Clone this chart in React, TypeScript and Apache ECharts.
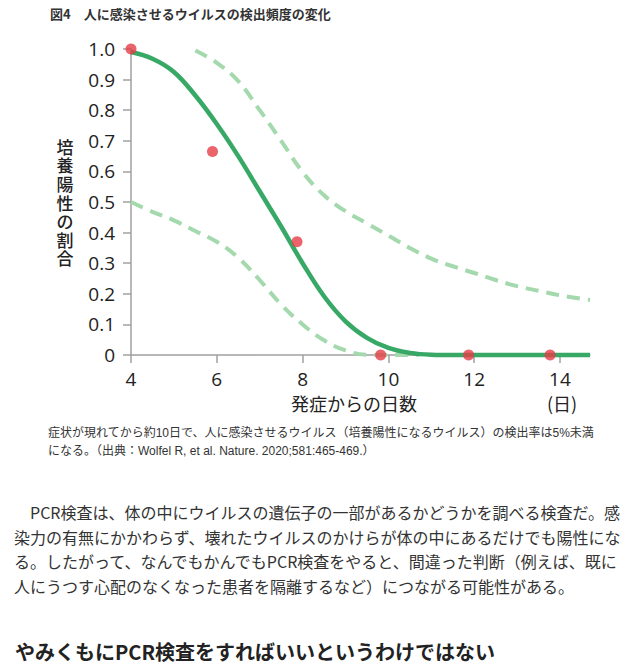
import React, { useEffect, useRef } from "react";
import * as echarts from "echarts";

// ---- data ----
const titleText = "図4　人に感染させるウイルスの検出頻度の変化";
const yAxisName = "培養陽性の割合";
const xAxisName = "発症からの日数";
const xUnit = "(日)";
const xTicks = [4, 6, 8, 10, 12, 14];

// observed proportions (red dots)
const obsDays = [4, 5.9, 7.87, 9.82, 11.87, 13.77];
const obsValues = [1.0, 0.665, 0.37, 0, 0, 0];

// fitted curve (solid)
const fitDays = [4, 4.5, 5, 5.5, 6, 6.5, 7, 7.5, 8, 8.5, 9, 9.5, 10, 10.5, 11, 11.5, 12, 13, 14, 14.7];
const fitValues = [0.99, 0.968, 0.925, 0.848, 0.755, 0.65, 0.535, 0.42, 0.3, 0.192, 0.11, 0.056, 0.023, 0.007, 0.001, 0, 0, 0, 0, 0];

// upper confidence bound (dashed)
const upperDays = [5.5, 6, 6.5, 7, 7.5, 8, 8.5, 9, 9.5, 10, 10.5, 11, 11.5, 12, 12.5, 13, 13.5, 14, 14.7];
const upperValues = [0.995, 0.955, 0.895, 0.8, 0.7, 0.598, 0.522, 0.47, 0.43, 0.39, 0.35, 0.315, 0.29, 0.268, 0.245, 0.225, 0.21, 0.195, 0.18];

// lower confidence bound (dashed)
const lowerDays = [4, 4.5, 5, 5.5, 6, 6.5, 7, 7.5, 8, 8.5, 9, 9.5, 10, 10.7];
const lowerValues = [0.5, 0.468, 0.44, 0.405, 0.37, 0.318, 0.245, 0.165, 0.1, 0.048, 0.015, 0.001, 0, 0];

const captionLines = [
  "症状が現れてから約10日で、人に感染させるウイルス（培養陽性になるウイルス）の検出率は5%未満",
  "になる。（出典：Wolfel R, et al. Nature. 2020;581:465-469.）",
];
const bodyLines = [
  "　PCR検査は、体の中にウイルスの遺伝子の一部があるかどうかを調べる検査だ。感",
  "染力の有無にかかわらず、壊れたウイルスのかけらが体の中にあるだけでも陽性にな",
  "る。したがって、なんでもかんでもPCR検査をやると、間違った判断（例えば、既に",
  "人にうつす心配のなくなった患者を隔離するなど）につながる可能性がある。",
];
const headingText = "やみくもにPCR検査をすればいいというわけではない";

const zip = (xs: number[], ys: number[]) => xs.map((x, i) => [x, ys[i]]);

const CJK = '"Noto Sans CJK JP", "Noto Sans", sans-serif';
const NUM = '"Open Sans", "Noto Sans", sans-serif';

export default function App() {
  const ref = useRef<HTMLDivElement>(null);
  useEffect(() => {
    if (!ref.current) return;
    const chart = echarts.init(ref.current, null, { renderer: "svg" });
    const dashed = { color: "#a3d9ac", width: 4, type: [13, 8] as number[] };
    const graphics: any[] = [
      {
        type: "text",
        left: 50,
        top: 7,
        style: { text: titleText, font: `bold 13px ${CJK}`, fill: "#333" },
      },
      {
        type: "text",
        x: 354,
        y: 403,
        style: { text: xAxisName, font: `18px ${CJK}`, fill: "#222", align: "center", verticalAlign: "middle" },
      },
      {
        type: "text",
        x: 562,
        y: 403,
        style: { text: xUnit, font: `18px ${CJK}`, fill: "#222", align: "center", verticalAlign: "middle" },
      },
    ];
    const nameChars = yAxisName.split("");
    nameChars.forEach((ch, i) => {
      graphics.push({
        type: "text",
        x: 65,
        y: 202 + (i - (nameChars.length - 1) / 2) * 18.6,
        style: {
          text: ch,
          font: `500 17px ${CJK}`,
          lineHeight: 17,
          fill: "#222",
          align: "center",
          verticalAlign: "middle",
        },
      });
    });
    captionLines.forEach((t, i) => {
      graphics.push({
        type: "text",
        x: 48,
        y: 433 + i * 18,
        style: { text: t, font: `12px "Liberation Sans", ${CJK}`, fill: "#333", verticalAlign: "middle" },
      });
    });
    bodyLines.forEach((t, i) => {
      graphics.push({
        type: "text",
        x: 14,
        y: 512 + i * 24.5,
        style: { text: t, font: `16px ${CJK}`, fill: "#333", verticalAlign: "middle" },
      });
    });
    graphics.push({
      type: "text",
      x: 15,
      y: 651,
      style: { text: headingText, font: `bold 20px ${CJK}`, fill: "#222", verticalAlign: "middle" },
    });

    chart.setOption({
      animation: false,
      backgroundColor: "#fff",
      grid: { left: 131, right: 53, top: 49, bottom: 313, containLabel: false },
      xAxis: {
        type: "value",
        min: 4,
        max: 14.7,
        axisLine: { show: true, lineStyle: { color: "#a0a0a0", width: 1.5 } },
        axisTick: { show: true, length: 8, customValues: xTicks, lineStyle: { color: "#a0a0a0", width: 1.5 } },
        axisLabel: {
          customValues: xTicks,
          fontSize: 19,
          lineHeight: 19,
          margin: 14,
          color: "#222",
          fontFamily: NUM,
        },
        splitLine: { show: false },
      },
      yAxis: {
        type: "value",
        min: 0,
        max: 1,
        interval: 0.1,
        axisLine: { show: true, lineStyle: { color: "#a0a0a0", width: 1.5 } },
        axisTick: { show: true, length: 8, lineStyle: { color: "#a0a0a0", width: 1.5 } },
        axisLabel: {
          fontSize: 19,
          margin: 16,
          color: "#222",
          fontFamily: NUM,
          formatter: (v: number) => (v === 0 ? "0" : v.toFixed(1)),
        },
        splitLine: { show: false },
      },
      graphic: graphics,
      series: [
        {
          type: "line",
          data: zip(lowerDays, lowerValues),
          smooth: 0.4,
          symbol: "none",
          clip: false,
          lineStyle: dashed,
          z: 1,
        },
        {
          type: "line",
          data: zip(upperDays, upperValues),
          smooth: 0.4,
          symbol: "none",
          clip: false,
          lineStyle: dashed,
          z: 1,
        },
        {
          type: "line",
          data: zip(fitDays, fitValues),
          smooth: 0.4,
          symbol: "none",
          clip: false,
          lineStyle: { color: "#37a865", width: 4.5 },
          z: 2,
        },
        {
          type: "scatter",
          data: zip(obsDays, obsValues),
          symbolSize: 11,
          clip: false,
          itemStyle: { color: "#e63c46" },
          z: 3,
        },
      ],
    });
    return () => chart.dispose();
  }, []);
  return (
    <div
      ref={ref}
      style={{ position: "fixed", left: 0, top: 0, width: 643, height: 668, background: "#fff" }}
    />
  );
}
